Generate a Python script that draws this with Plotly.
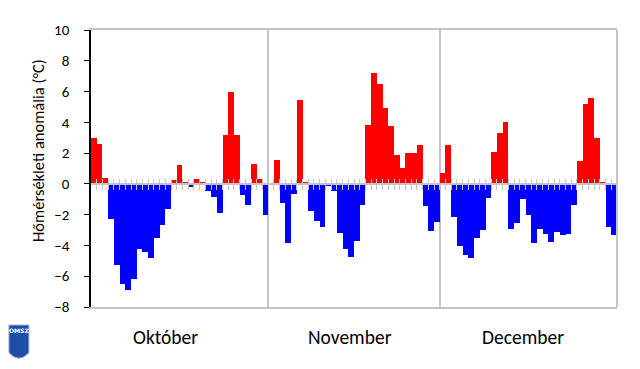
import plotly.graph_objects as go

# Daily temperature anomalies (°C), October–December
october = [3.0, 2.6, 0.4, -2.3, -5.3, -6.5, -6.9, -6.2, -4.25, -4.4, -4.8, -3.5, -2.7, -1.6,
           0.26, 1.2, 0.13, -0.17, 0.35, 0.13, -0.48, -0.82, -1.87, 3.15, 6.0, 3.2, -0.74,
           -1.34, 1.3, 0.35, -2.04]
november = [0.0, 1.56, -1.26, -3.86, -0.65, 5.47, 0.1, -1.78, -2.4, -2.82, -0.13, -0.48,
            -3.17, -4.2, -4.73, -3.69, -1.34, 3.82, 7.2, 6.5, 4.95, 3.73, 1.9, 1.06, 2.0,
            2.0, 2.52, -1.43, -3.08, -2.47]
december = [0.69, 2.52, -2.13, -4.03, -4.64, -4.82, -3.54, -3.0, -0.93, 2.08, 3.3, 3.99,
            -2.9, -2.52, -0.95, -2.04, -3.86, -2.95, -3.25, -3.77, -3.12, -3.34, -3.25,
            -1.34, 1.48, 5.2, 5.55, 2.97, 0.1, -2.82, -3.34]
month_names = ["Október", "November", "December"]
y_ticks = [-8, -6, -4, -2, 0, 2, 4, 6, 8, 10]
y_title = "Hőmérsékleti anomália (°C)"

months = [october, november, december]
values = october + november + december
n = len(values)
days = list(range(1, n + 1))
colors = ["#FF0000" if v >= 0 else "#0000FF" for v in values]

# month boundaries (category positions)
bounds = []
acc = 0
for m in months[:-1]:
    acc += len(m)
    bounds.append(acc + 0.5)

FONT = "Carlito, Lato, 'Liberation Sans', sans-serif"
GRAY = "#C4C4C4"

fig = go.Figure()
fig.add_trace(go.Bar(x=days, y=values, width=1.0, marker=dict(color=colors, line=dict(width=0)),
                     showlegend=False, hoverinfo="x+y"))

x_range = [0.5, n + 0.5]
zero_pos = (0 - y_ticks[0]) / (y_ticks[-1] - y_ticks[0])
day_bounds = [i + 0.5 for i in range(1, n)]

# page body adds an 8px offset; figure is sized to compensate
fig.update_layout(
    width=632, height=361,
    margin=dict(l=83, r=23, t=22, b=62),
    paper_bgcolor="white", plot_bgcolor="white",
    bargap=0,
    font=dict(family=FONT, color="#000000"),
    xaxis=dict(range=x_range, tickvals=bounds, ticks="", showticklabels=False,
               showgrid=True, gridcolor=GRAY, gridwidth=1.5, zeroline=False,
               showline=True, mirror=True, linecolor=GRAY, linewidth=2, fixedrange=True),
    xaxis2=dict(range=x_range, overlaying="x", anchor="free", position=zero_pos,
                tickvals=day_bounds, ticks="outside", ticklen=5, tickwidth=1, tickcolor=GRAY,
                showticklabels=False, showgrid=False, zeroline=False,
                showline=True, linecolor=GRAY, linewidth=1.5),
    xaxis3=dict(range=x_range, overlaying="x", anchor="free", position=zero_pos,
                tickvals=day_bounds, ticks="inside", ticklen=5, tickwidth=1, tickcolor=GRAY,
                showticklabels=False, showgrid=False, zeroline=False, showline=False),
    yaxis=dict(range=[y_ticks[0], y_ticks[-1]], tickvals=y_ticks, ticks="outside", ticklen=5,
               tickcolor="#000000", tickwidth=1, showline=True, linecolor="#000000", linewidth=1.5,
               showgrid=False, zeroline=False, tickfont=dict(size=15, family=FONT, color="#000000"),
               ticklabelstandoff=12),
)

# invisible traces to activate the overlay axes
fig.add_trace(go.Scatter(x=[1], y=[0], xaxis="x2", mode="markers", marker=dict(opacity=0),
                         showlegend=False, hoverinfo="skip"))
fig.add_trace(go.Scatter(x=[1], y=[0], xaxis="x3", mode="markers", marker=dict(opacity=0),
                         showlegend=False, hoverinfo="skip"))

# right frame edge
fig.add_shape(type="line", xref="paper", yref="paper", x0=1, x1=1, y0=0, y1=1,
              line=dict(color=GRAY, width=2))

# month labels
label_x = [0.1407, 0.4924, 0.8222]
for name, lx in zip(month_names, label_x):
    fig.add_annotation(text=name, xref="paper", yref="paper", x=lx, y=-0.108,
                       showarrow=False, font=dict(size=19.5, family=FONT, color="#000000"),
                       xanchor="center", yanchor="middle")

# y title
fig.add_annotation(text=y_title, xref="paper", yref="paper", x=-0.1008, y=0.567,
                   textangle=-90, showarrow=False, font=dict(size=16.5, family=FONT, color="#000000"),
                   xanchor="center", yanchor="middle")

# OMSZ logo placeholder
fig.add_shape(type="path", xref="paper", yref="paper",
              path="M -0.156,-0.065 L -0.118,-0.065 L -0.118,-0.165 Q -0.137,-0.205 -0.156,-0.165 Z",
              fillcolor="#1F4EA8", line=dict(color="#9DB3D9", width=1))
fig.add_annotation(text="<b>OMSZ</b>", xref="paper", yref="paper", x=-0.137, y=-0.085,
                   showarrow=False, font=dict(size=6, family="DejaVu Sans", color="white"),
                   xanchor="center", yanchor="middle")

fig.write_html("out.html")
